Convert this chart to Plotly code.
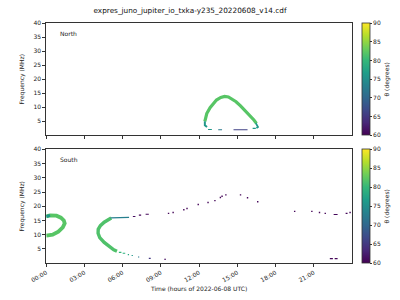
import plotly.graph_objects as go
from plotly.colors import sample_colorscale

# ---------------- data (time in hours of 2022-06-08, frequency in MHz, theta in degrees)
tick_hours = [0, 3, 6, 9, 12, 15, 18, 21]
tick_labels = ["00:00", "03:00", "06:00", "09:00", "12:00", "15:00", "18:00", "21:00"]
freq_ticks = [5, 10, 15, 20, 25, 30, 35, 40]
theta_ticks = [60, 65, 70, 75, 80, 85, 90]

# North panel
north_arc_time = [12.45, 12.5, 12.6, 12.86, 13.1, 13.36, 13.7, 14.0, 14.3, 14.5, 14.9, 15.25, 15.6, 16.0, 16.3, 16.5]
north_arc_freq = [5.0, 6.5, 7.8, 9.9, 11.4, 12.6, 13.5, 13.9, 13.7, 13.2, 12.0, 10.5, 8.9, 7.0, 5.5, 4.3]
north_arc_theta = 82
north_left_time = [12.45, 12.45, 12.62]
north_left_freq = [5.0, 3.6, 3.0]
north_right_time = [16.45, 16.62, 16.5]
north_right_freq = [4.4, 3.0, 2.6]
north_end_theta = 76
north_dash_start = [12.7, 13.5, 14.7, 16.2]
north_dash_end = [13.0, 13.8, 15.8, 16.45]
north_dash_freq = [2.1, 2.0, 2.0, 2.5]
north_dash_theta = [76, 72, 66, 76]

# South panel
south_loop_time = [0.0, 0.3, 0.8, 1.15, 1.38, 1.45, 1.3, 0.95, 0.5, 0.0]
south_loop_freq = [16.4, 16.8, 16.7, 16.0, 15.0, 14.0, 12.6, 11.1, 10.0, 9.7]
south_loop_theta = 82
south_arc_time = [5.1, 4.9, 4.55, 4.25, 4.08, 4.07, 4.2, 4.55, 4.93, 5.3, 5.55]
south_arc_freq = [15.9, 15.4, 14.4, 13.2, 11.9, 10.5, 9.0, 7.3, 5.8, 4.7, 4.2]
south_arc_theta = 81.5
south_line_time = [5.05, 6.5]
south_line_freq = [15.95, 16.1]
south_line_theta = 73
south_dash_start = [5.7, 6.0, 6.4, 6.7, 7.2, 8.05, 9.26, 6.8, 7.27, 7.8, 22.56, 23.5, 22.26, 22.64]
south_dash_end = [5.9, 6.2, 6.5, 6.8, 7.3, 8.2, 9.4, 7.0, 7.45, 8.05, 22.87, 23.65, 22.5, 22.87]
south_dash_freq = [3.8, 3.5, 3.0, 2.7, 2.2, 1.7, 1.4, 16.4, 16.9, 17.2, 17.1, 17.5, 1.6, 1.6]
south_dash_theta = [80, 79, 78, 76, 72, 65, 61, 61, 60.5, 60.5, 60.5, 60.5, 60.5, 60.5]
south_dot_time = [9.6, 9.96, 10.8, 11.05, 11.93, 12.7, 13.24, 13.67, 13.8, 14.1, 15.25, 15.8, 16.6, 19.5, 20.85, 21.45, 21.9, 23.85]
south_dot_freq = [17.5, 17.8, 18.8, 19.2, 20.6, 21.3, 22.0, 23.1, 23.5, 24.0, 24.0, 23.0, 21.6, 18.2, 18.2, 17.8, 17.5, 17.8]
south_dot_theta = [60.5] * len(south_dot_time)

TITLE = "expres_juno_jupiter_io_txka-y235_20220608_v14.cdf"
FONT = "DejaVu Sans"
CMIN, CMAX = 60, 90
TXT = "#222222"


def col(th):
    return sample_colorscale("Viridis", [(th - CMIN) / (CMAX - CMIN)])[0]


fig = go.Figure()


def add_line(t, f, th, w, xa, ya):
    fig.add_trace(go.Scatter(x=t, y=f, mode="lines", xaxis=xa, yaxis=ya,
                             line=dict(color=col(th), width=w), showlegend=False,
                             hoverinfo="skip"))


# north
add_line(north_arc_time, north_arc_freq, north_arc_theta, 3.2, "x", "y")
add_line(north_left_time, north_left_freq, north_end_theta, 2.0, "x", "y")
add_line(north_right_time, north_right_freq, north_end_theta, 1.8, "x", "y")
for s, e, f, th in zip(north_dash_start, north_dash_end, north_dash_freq, north_dash_theta):
    add_line([s, e], [f, f], th, 1.1, "x", "y")
fig.add_trace(go.Scatter(x=[north_dash_start[0]], y=[north_dash_freq[0]], mode="markers",
                         xaxis="x", yaxis="y", showlegend=False, hoverinfo="skip",
                         marker=dict(size=1, color=[north_dash_theta[0]], coloraxis="coloraxis", opacity=0)))

# south
add_line(south_loop_time, south_loop_freq, south_loop_theta, 3.8, "x2", "y2")
add_line(south_loop_time[:2], south_loop_freq[:2], 76, 3.0, "x2", "y2")
add_line(south_arc_time, south_arc_freq, south_arc_theta, 3.4, "x2", "y2")
add_line(south_line_time, south_line_freq, south_line_theta, 1.2, "x2", "y2")
for s, e, f, th in zip(south_dash_start, south_dash_end, south_dash_freq, south_dash_theta):
    add_line([s, e], [f, f], th, 1.1, "x2", "y2")
fig.add_trace(go.Scatter(x=south_dot_time, y=south_dot_freq, mode="markers",
                         xaxis="x2", yaxis="y2", showlegend=False, hoverinfo="skip",
                         marker=dict(size=1.4, symbol="square", line=dict(width=0),
                                     color=south_dot_theta, coloraxis="coloraxis2")))

axis_common = dict(showline=True, linecolor="#333333", linewidth=0.8, mirror=True,
                   ticks="outside", ticklen=3, tickwidth=0.8, tickcolor="#333333",
                   showgrid=False, zeroline=False,
                   tickfont=dict(family=FONT, size=6, color=TXT))

xl, xr = 31.5 / 400, 350 / 400
top_dom = [1 - 133.2 / 300, 1 - 19.3 / 300]
bot_dom = [1 - 262.7 / 300, 1 - 147.3 / 300]


def cbar(dom):
    return dict(cmin=CMIN, cmax=CMAX, colorscale="Viridis",
                colorbar=dict(x=360 / 400, xanchor="left", xref="paper", xpad=0, ypad=0,
                              y=(dom[0] + dom[1]) / 2, yanchor="middle", yref="paper",
                              len=dom[1] - dom[0], lenmode="fraction", thickness=8,
                              outlinewidth=0.8, outlinecolor="#333333",
                              ticks="outside", ticklen=2, tickwidth=0.8, tickcolor="#333333",
                              tickvals=theta_ticks, ticktext=[str(v) for v in theta_ticks],
                              tickfont=dict(family=FONT, size=6, color=TXT),
                              title=dict(text="θ (degrees)", side="right",
                                         font=dict(family=FONT, size=6, color=TXT))))


fig.update_layout(
    width=400, height=300, margin=dict(l=0, r=0, t=0, b=0),
    paper_bgcolor="white", plot_bgcolor="white",
    font=dict(family=FONT, color=TXT),
    title=dict(text=TITLE, x=190 / 400, xanchor="center", y=1 - 10.5 / 300, yanchor="middle",
               font=dict(family=FONT, size=7.3, color="#111111")),
    xaxis=dict(domain=[xl, xr], anchor="y", range=[0, 24], tickvals=tick_hours,
               showticklabels=False, matches="x2", **axis_common),
    yaxis=dict(domain=top_dom, anchor="x", range=[0, 40], tickvals=freq_ticks,
               title=dict(text="Frequency (MHz)", font=dict(family=FONT, size=6, color=TXT),
                          standoff=8), **axis_common),
    xaxis2=dict(domain=[xl, xr], anchor="y2", range=[0, 24], tickvals=tick_hours,
                ticktext=tick_labels, tickangle=-30,
                title=dict(text="Time (hours of 2022-06-08 UTC)",
                           font=dict(family=FONT, size=6, color=TXT), standoff=4),
                **axis_common),
    yaxis2=dict(domain=bot_dom, anchor="x2", range=[0, 40], tickvals=freq_ticks,
                title=dict(text="Frequency (MHz)", font=dict(family=FONT, size=6, color=TXT),
                           standoff=8), **axis_common),
    coloraxis=cbar(top_dom),
    coloraxis2=cbar(bot_dom),
    annotations=[
        dict(text="North", xref="x domain", yref="y domain", x=0.04, y=0.91,
             xanchor="left", yanchor="middle", showarrow=False,
             font=dict(family=FONT, size=6, color=TXT)),
        dict(text="South", xref="x2 domain", yref="y2 domain", x=0.04, y=0.907,
             xanchor="left", yanchor="middle", showarrow=False,
             font=dict(family=FONT, size=6, color=TXT)),
    ],
)

fig.write_html("out.html")
